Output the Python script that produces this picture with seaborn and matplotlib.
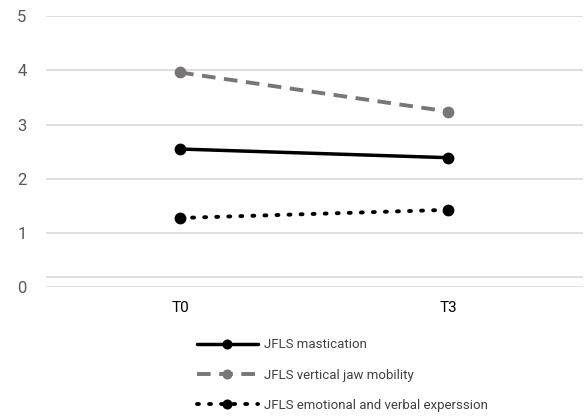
import pandas as pd
import matplotlib.pyplot as plt
import seaborn as sns

timepoints = ["T0", "T3"]
mastication = [2.55, 2.39]
jaw_mobility = [3.96, 3.24]
expression = [1.28, 1.43]
series_names = ["JFLS mastication", "JFLS vertical jaw mobility",
                "JFLS emotional and verbal experssion"]

df = pd.DataFrame({
    "time": timepoints * 3,
    "score": mastication + jaw_mobility + expression,
    "series": [s for s in series_names for _ in timepoints],
})

sns.set_style("white")
plt.rcParams["font.family"] = ["Roboto", "DejaVu Sans"]

fig = plt.figure(figsize=(5.88, 4.16), dpi=100)
ax = fig.add_axes([0.078, 0.309, 0.913, 0.6525])

styles = {
    series_names[0]: dict(color="black", linestyle="-", lw=2.5),
    series_names[1]: dict(color="#7a7676", linestyle=(0, (3.5, 2.2)), lw=2.8),
    series_names[2]: dict(color="black", linestyle=(0, (0.5, 2.6)), lw=2.8,
                          dash_capstyle="round"),
}
for name in series_names:
    st = styles[name]
    sub = df[df["series"] == name]
    sns.lineplot(data=sub, x="time", y="score", ax=ax, label=name,
                 color=st["color"], linewidth=st["lw"], marker="o",
                 markersize=8.5, markeredgewidth=0, sort=False)
    line = ax.get_lines()[-1]
    line.set_linestyle(st["linestyle"])
    if "dash_capstyle" in st:
        line.set_dash_capstyle("round")

ax.set_xlim(-0.5, 1.5)
ax.set_ylim(0, 5)
ax.set_yticks([0, 1, 2, 3, 4, 5])
ax.yaxis.grid(True, color="#d9d9d9", linewidth=1.2)
# extra faint rule just above the zero line, as in the original
ax.axhline(0.19, color="#d9d9d9", linewidth=1.2, zorder=1)
for s in ax.spines.values():
    s.set_visible(False)
ax.set_xlabel("")
ax.set_ylabel("")
ax.tick_params(axis="y", labelsize=12, labelcolor="#595959", length=0, pad=14)
ax.tick_params(axis="x", labelsize=11, labelcolor="black", length=0, pad=10)

leg = ax.legend(loc="upper left", bbox_to_anchor=(0.315, 0.215),
                bbox_transform=fig.transFigure, frameon=False, fontsize=9.5,
                handlelength=4.6, labelspacing=1.3, handletextpad=0.5,
                labelcolor="#404040", markerscale=0.85)

fig.savefig("out.png", dpi=100)
